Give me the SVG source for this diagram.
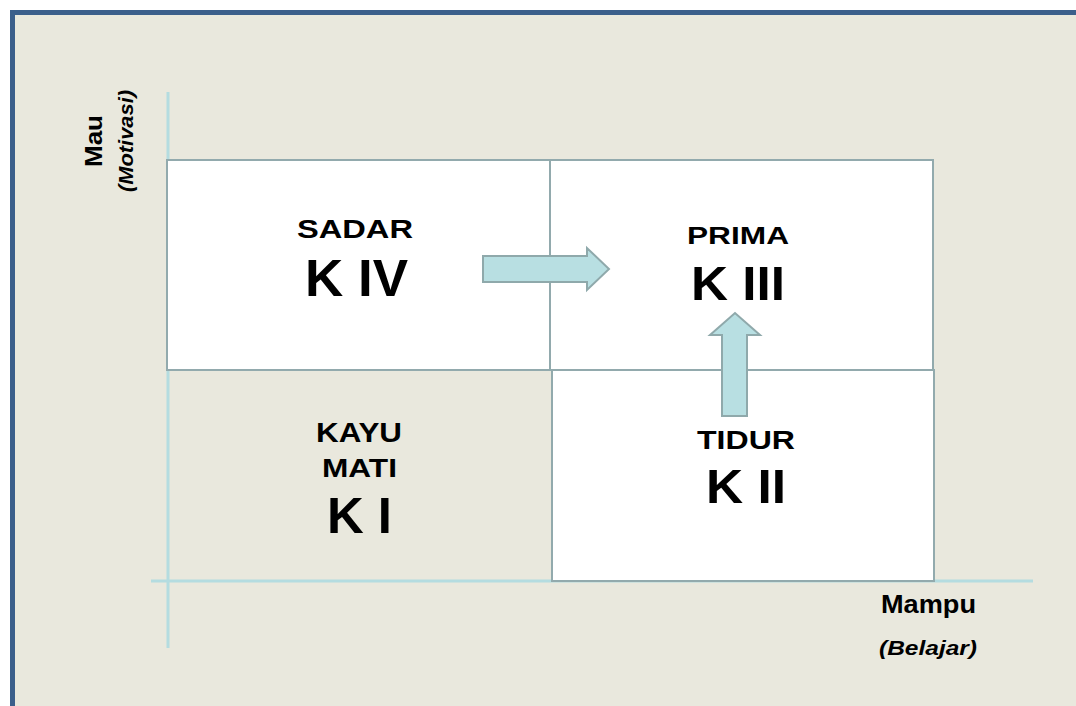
<svg xmlns="http://www.w3.org/2000/svg" width="1076" height="706" viewBox="0 0 1076 706">
<style>
.t{font-family:"Liberation Sans",Arial,sans-serif;font-weight:bold;fill:#000;text-anchor:middle}
.box{fill:#fff;stroke:#92aaad;stroke-width:2}
.axis{stroke:#b4dce0;stroke-width:3}
.arr{fill:#b8dfe2;stroke:#8fa9ab;stroke-width:2}
</style>
<rect x="0" y="0" width="1076" height="706" fill="#fff"/>
<rect x="12.5" y="12.5" width="1080" height="720" fill="#e9e8dd" stroke="#3b5f8b" stroke-width="5"/>
<g id="axes">
<line class="axis" x1="168" y1="92" x2="168" y2="648"/>
<line class="axis" x1="151" y1="581" x2="1033" y2="581"/>
</g>
<g id="k4"><rect class="box" x="167" y="160" width="383" height="210"/>
<text class="t" x="355" y="238" font-size="26.5" textLength="116" lengthAdjust="spacingAndGlyphs">SADAR</text>
<text class="t" x="356.5" y="296" font-size="52" textLength="103" lengthAdjust="spacingAndGlyphs">K IV</text></g>
<g id="k3"><rect class="box" x="550" y="160" width="383" height="210"/>
<text class="t" x="738" y="244" font-size="24" textLength="102" lengthAdjust="spacingAndGlyphs">PRIMA</text>
<text class="t" x="738" y="300" font-size="49" textLength="94" lengthAdjust="spacingAndGlyphs">K III</text></g>
<g id="k2"><rect class="box" x="552" y="370" width="382" height="211"/>
<text class="t" x="746" y="449" font-size="26" textLength="98" lengthAdjust="spacingAndGlyphs">TIDUR</text>
<text class="t" x="746" y="503" font-size="48" textLength="80" lengthAdjust="spacingAndGlyphs">K II</text></g>
<g id="k1">
<text class="t" x="359" y="442" font-size="27" textLength="86" lengthAdjust="spacingAndGlyphs">KAYU</text>
<text class="t" x="359.5" y="477" font-size="26.5" textLength="75" lengthAdjust="spacingAndGlyphs">MATI</text>
<text class="t" x="359.5" y="533" font-size="50" textLength="65" lengthAdjust="spacingAndGlyphs">K I</text></g>
<g id="connectors">
<path class="arr" d="M483 256 H587 V248 L609 269 L587 290 V282 H483 Z"/>
<path class="arr" d="M722 416 V335 H710 L735 313 L760 335 H747 V416 Z"/>
</g>
<g id="labels">
<text class="t" transform="translate(102,141) rotate(-90)" font-size="23" textLength="52" lengthAdjust="spacingAndGlyphs">Mau</text>
<text class="t" transform="translate(133,141) rotate(-90)" font-size="20" font-style="italic" textLength="102" lengthAdjust="spacingAndGlyphs">(Motivasi)</text>
<text class="t" x="928.5" y="613" font-size="25" textLength="95" lengthAdjust="spacingAndGlyphs">Mampu</text>
<text class="t" x="928" y="655" font-size="21" font-style="italic" textLength="98" lengthAdjust="spacingAndGlyphs">(Belajar)</text>
</g>
</svg>
